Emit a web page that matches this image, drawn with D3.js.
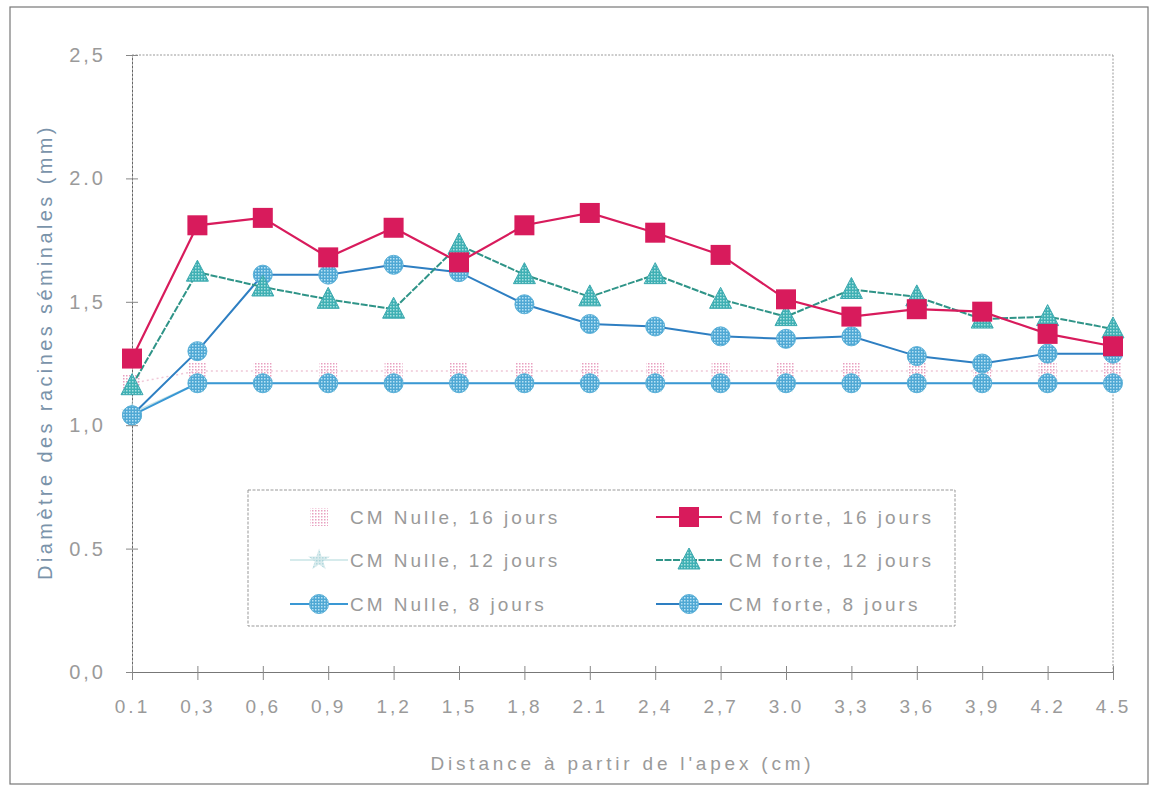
<!DOCTYPE html>
<html><head><meta charset="utf-8">
<script src="https://cdn.jsdelivr.net/npm/d3@7"></script>
<style>body{margin:0;background:#fff;} svg{display:block;font-family:"Liberation Sans",Arial,sans-serif;}</style>
</head><body>
<svg id="c" width="1152" height="788"></svg>
<script>
const categories = ["0.1","0,3","0,6","0,9","1,2","1,5","1,8","2.1","2,4","2,7","3.0","3,3","3,6","3,9","4.2","4.5"];
const yTickValues = [0, 0.5, 1.0, 1.5, 2.0, 2.5];
const yTickLabels = ["0,0","0.5","1,0","1,5","2.0","2,5"];

const nulle16 = [1.17,1.22,1.22,1.22,1.22,1.22,1.22,1.22,1.22,1.22,1.22,1.22,1.22,1.22,1.22,1.22];
const nulle12 = [1.05,1.17,1.17,1.17,1.17,1.17,1.17,1.17,1.17,1.17,1.17,1.17,1.17,1.17,1.17,1.17];
const nulle8  = [1.04,1.17,1.17,1.17,1.17,1.17,1.17,1.17,1.17,1.17,1.17,1.17,1.17,1.17,1.17,1.17];
const forte16 = [1.27,1.81,1.84,1.68,1.80,1.66,1.81,1.86,1.78,1.69,1.51,1.44,1.47,1.46,1.37,1.32];
const forte12 = [1.16,1.62,1.56,1.51,1.47,1.73,1.61,1.52,1.61,1.51,1.44,1.55,1.52,1.43,1.44,1.39];
const forte8  = [1.04,1.30,1.61,1.61,1.65,1.62,1.49,1.41,1.40,1.36,1.35,1.36,1.28,1.25,1.29,1.29];

const seriesNames = ["CM Nulle, 16 jours","CM forte, 16 jours","CM Nulle, 12 jours","CM forte, 12 jours","CM Nulle, 8 jours","CM forte, 8 jours"];

const svg = d3.select("#c");
const L = 132, R = 1113, T = 55, B = 672;
const x = d3.scalePoint().domain(categories).range([L, R]).padding(0);
const y = d3.scaleLinear().domain([0, 2.5]).range([B, T]);

const defs = svg.append("defs");
function dotPattern(id, bg, dot, size) {
  const p = defs.append("pattern").attr("id", id).attr("patternUnits","userSpaceOnUse").attr("width", size).attr("height", size);
  p.append("rect").attr("width", size).attr("height", size).attr("fill", bg);
  p.append("rect").attr("x",0).attr("y",0).attr("width",1.5).attr("height",1.5).attr("fill", dot);
}
dotPattern("pinkDots", "rgba(255,255,255,0)", "#e8a0c0", 3);
dotPattern("tealTex", "#3fb0b4", "#a8e0e0", 3);
dotPattern("blueTex", "#4fa8d4", "#b8e2f4", 3);
dotPattern("lightTex", "#cfe6e8", "#9fcfd6", 3);

// outer frame
svg.append("rect").attr("x", 10).attr("y", 7).attr("width", 1138).attr("height", 777)
  .attr("fill","none").attr("stroke","#777").attr("stroke-width",1.2);

// plot frame (top & right dotted)
svg.append("line").attr("x1",L).attr("x2",R).attr("y1",T).attr("y2",T).attr("stroke","#999").attr("stroke-dasharray","2,1.5");
svg.append("line").attr("x1",R).attr("x2",R).attr("y1",T).attr("y2",B).attr("stroke","#999").attr("stroke-dasharray","2,1.5");

// axes
const yAxis = d3.axisLeft(y).tickValues(yTickValues).tickFormat((d,i)=>yTickLabels[i]).tickSizeInner(6).tickSizeOuter(0).tickPadding(20);
const gy = svg.append("g").attr("transform",`translate(${L},0)`).call(yAxis);
gy.select(".domain").attr("stroke","#666").attr("stroke-dasharray","3,1");
gy.selectAll(".tick line").attr("stroke","#888").attr("x1",-6).attr("x2",6);
gy.selectAll(".tick text").attr("fill","#9a9a9a").attr("font-size",20).attr("letter-spacing",3);

const xAxis = d3.axisBottom(x).tickSizeInner(6).tickSizeOuter(0).tickPadding(22);
const gx = svg.append("g").attr("transform",`translate(0,${B})`).call(xAxis);
gx.select(".domain").attr("stroke","#777");
gx.selectAll(".tick line").attr("stroke","#888").attr("y1",-6).attr("y2",8);
gx.selectAll(".tick text").attr("fill","#9a9a9a").attr("font-size",19).attr("letter-spacing",3);

// axis titles
svg.append("text").attr("transform",`translate(52,352) rotate(-90)`).attr("text-anchor","middle")
  .attr("fill","#7a93aa").attr("font-size",20).attr("letter-spacing",3.4).text("Diamètre des racines séminales (mm)");
svg.append("text").attr("x",(L+R)/2).attr("y",770).attr("text-anchor","middle")
  .attr("fill","#9a9a9a").attr("font-size",19).attr("letter-spacing",3.8).text("Distance à partir de l'apex (cm)");

function drawMarker(g, type, cx, cy) {
  if (type === "sqPink") {
    g.append("rect").attr("x",cx-9).attr("y",cy-9).attr("width",18).attr("height",18).attr("fill","url(#pinkDots)");
  } else if (type === "sqRed") {
    g.append("rect").attr("x",cx-10).attr("y",cy-10).attr("width",20).attr("height",20).attr("fill","#d81b5c");
  } else if (type === "tri") {
    g.append("path").attr("d",`M${cx},${cy-12} L${cx+11},${cy+9} L${cx-11},${cy+9} Z`).attr("fill","url(#tealTex)").attr("stroke","#3aa8ae").attr("stroke-width",1);
  } else if (type === "star") {
    g.append("path").attr("d", d3.symbol().type(d3.symbolStar).size(150)()).attr("transform",`translate(${cx},${cy})`).attr("fill","url(#lightTex)").attr("opacity",0.8);
  } else if (type === "circ") {
    g.append("circle").attr("cx",cx).attr("cy",cy).attr("r",9.5).attr("fill","url(#blueTex)").attr("stroke","#5ab0d8").attr("stroke-width",1);
  }
}

const series = [
  {name: seriesNames[0], data: nulle16, line: "#f0c8d8", width: 1.5, dash: "2,3", marker: "sqPink"},
  {name: seriesNames[2], data: nulle12, line: "#c8e4e6", width: 1.5, dash: null, marker: "star"},
  {name: seriesNames[4], data: nulle8,  line: "#3a98d4", width: 2, dash: null, marker: "circ"},
  {name: seriesNames[5], data: forte8,  line: "#2e7fc2", width: 2, dash: null, marker: "circ"},
  {name: seriesNames[3], data: forte12, line: "#2f9488", width: 2, dash: "7,1.5", marker: "tri"},
  {name: seriesNames[1], data: forte16, line: "#d81b5c", width: 2.2, dash: null, marker: "sqRed"}
];

const lineGen = d3.line().x((d,i)=>x(categories[i])).y(d=>y(d));
series.forEach(s => {
  const g = svg.append("g");
  const p = g.append("path").attr("d", lineGen(s.data)).attr("fill","none").attr("stroke", s.line).attr("stroke-width", s.width);
  if (s.dash) p.attr("stroke-dasharray", s.dash);
  s.data.forEach((v,i)=> drawMarker(g, s.marker, x(categories[i]), y(v)));
});

// legend
const lg = svg.append("g");
lg.append("rect").attr("x",248).attr("y",490).attr("width",707).attr("height",136)
  .attr("fill","#fff").attr("stroke","#999").attr("stroke-dasharray","3,1.5");
const legendItems = [
  {s: series[0], col: 0, row: 0},
  {s: series[5], col: 1, row: 0},
  {s: series[1], col: 0, row: 1},
  {s: series[4], col: 1, row: 1},
  {s: series[2], col: 0, row: 2},
  {s: series[3], col: 1, row: 2}
];
const rowY = [517, 560, 604];
const colX = [290, 656];
const textX = [350, 729];
legendItems.forEach(it => {
  const lx = colX[it.col], ly = rowY[it.row];
  const w = it.col === 0 ? 58 : 66;
  const ln = lg.append("line").attr("x1",lx).attr("x2",lx+w).attr("y1",ly).attr("y2",ly)
    .attr("stroke", it.s.line).attr("stroke-width", it.s.width);
  if (it.s.marker === "sqPink") ln.attr("stroke","none");
  if (it.s.dash) ln.attr("stroke-dasharray", it.s.dash);
  drawMarker(lg, it.s.marker, lx + w/2, ly);
  lg.append("text").attr("x", textX[it.col]).attr("y", ly+7).attr("fill","#9a9a9a").attr("font-size",19)
    .attr("letter-spacing",3).text(it.s.name);
});
</script>
</body></html>
